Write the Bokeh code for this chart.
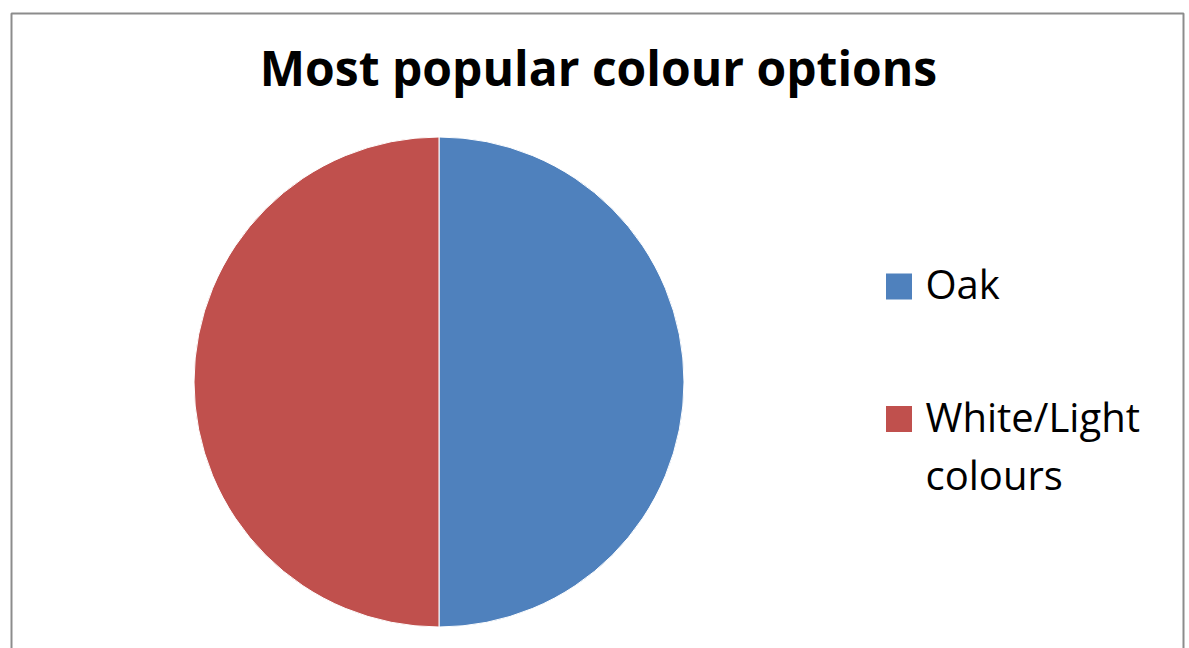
import math
from bokeh.plotting import figure
from bokeh.models import Range1d, ColumnDataSource
from bokeh.core.properties import value
from bokeh.embed import file_html
from bokeh.resources import INLINE

# ---- data ----
categories = ["Oak", "White/Light colours"]
values = [50, 50]
colors = ["#4F81BD", "#C0504D"]
legend_lines = [["Oak"], ["White/Light", "colours"]]
title_text = "Most popular colour options"

W, H = 1189, 648
p = figure(width=W, height=H, output_backend="svg", toolbar_location=None,
           x_range=Range1d(0, W), y_range=Range1d(0, H), min_border=0,
           outline_line_color=None, background_fill_color="white",
           border_fill_color="white")
p.axis.visible = False
p.grid.visible = False

def Y(py):
    return H - py

# chart border (left, top, right)
p.line([11, 11, 1183, 1183], [Y(660), Y(13), Y(13), Y(660)], line_color="#8c8c8c", line_width=2)

# pie
total = sum(values)
cx, cy, r = 438.5, Y(381.5), 245
starts, ends = [], []
acc = 0.0
for v in values:
    a0 = math.pi / 2 - 2 * math.pi * acc / total
    acc += v
    a1 = math.pi / 2 - 2 * math.pi * acc / total
    starts.append(a0)
    ends.append(a1)
src = ColumnDataSource(dict(cat=categories, val=values, start=starts, end=ends, color=colors,
                            x=[cx] * len(values), y=[cy] * len(values)))
p.wedge(x="x", y="y", radius=r, start_angle="start", end_angle="end", direction="clock",
        fill_color="color", line_color="white", line_width=1, source=src)

# title
tsz = 48
p.text(x=[598], y=[Y(86 - 0.39 * tsz)], text=[title_text], text_font=value("Open Sans"),
       text_font_style="bold", text_font_size=f"{tsz}px", text_align="center",
       text_baseline="alphabetic", text_color="black")

# legend
lsz = 40
sq_py = [286, 418.5]
text_x = 925
line_gap = 58
for i, cat in enumerate(categories):
    p.rect(x=[898.5], y=[Y(sq_py[i])], width=26, height=26, fill_color=colors[i], line_color=None)
    base_py = sq_py[i] + 13 - 0.39 * lsz
    for j, ln in enumerate(legend_lines[i]):
        p.text(x=[text_x], y=[Y(base_py + j * line_gap)], text=[ln], text_font=value("Open Sans"),
               text_font_size=f"{lsz}px", text_align="left", text_baseline="alphabetic",
               text_color="black")

open("out.html", "w").write(file_html(p, INLINE))
